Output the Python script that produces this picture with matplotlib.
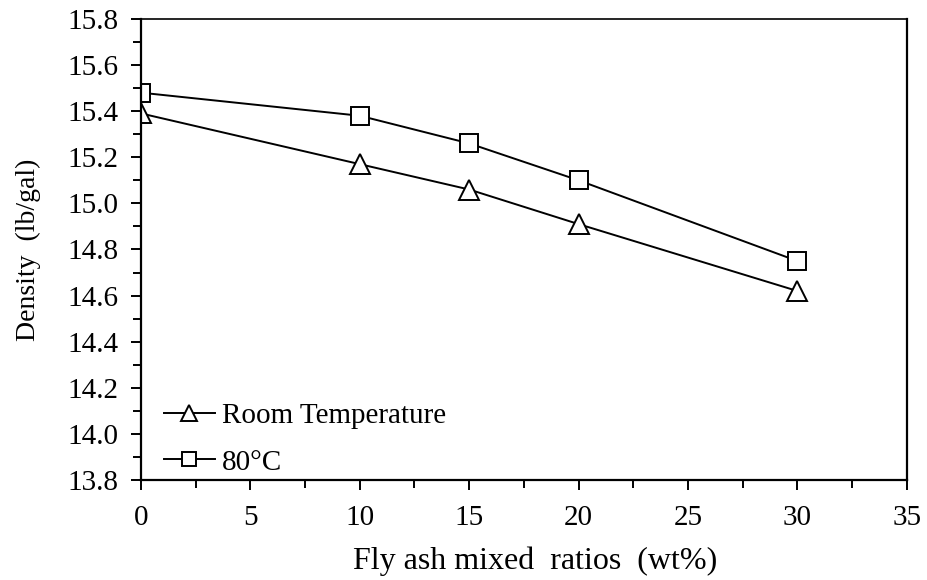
import matplotlib
matplotlib.use("Agg")
import matplotlib.pyplot as plt
from matplotlib.ticker import MultipleLocator, FormatStrFormatter

plt.rcParams['font.family'] = ['Liberation Serif', 'DejaVu Serif']

fly_ash = [0, 10, 15, 20, 30]
room_temp = [15.39, 15.17, 15.06, 14.91, 14.62]
temp_80 = [15.48, 15.38, 15.26, 15.10, 14.75]
series_labels = ["Room Temperature", "80\u00b0C"]

fig = plt.figure(figsize=(9.28, 5.8), dpi=100)
ax = fig.add_axes([0.152, 0.1724, 0.825, 0.795])

ax.plot(fly_ash, room_temp, color='black', lw=1.4, marker='^', ms=14,
        mfc='white', mec='black', mew=1.4, label=series_labels[0])
ax.plot(fly_ash, temp_80, color='black', lw=1.4, marker='s', ms=13,
        mfc='white', mec='black', mew=1.4, label=series_labels[1])

ax.set_xlim(0, 35)
ax.set_ylim(13.8, 15.8)
ax.xaxis.set_major_locator(MultipleLocator(5))
ax.xaxis.set_minor_locator(MultipleLocator(2.5))
ax.yaxis.set_major_locator(MultipleLocator(0.2))
ax.yaxis.set_minor_locator(MultipleLocator(0.1))
ax.yaxis.set_major_formatter(FormatStrFormatter('%.1f'))

ax.tick_params(axis='both', which='both', direction='out', width=1.4,
               top=False, right=False, labelsize=21, color='black')
ax.tick_params(axis='x', which='major', length=7, pad=11)
ax.tick_params(axis='y', which='major', length=7, pad=9)
ax.tick_params(axis='both', which='minor', length=6)
for s in ax.spines.values():
    s.set_linewidth(1.6)
    s.set_color('black')
ax.spines['top'].set_linewidth(1.2)

ax.set_xlabel("Fly ash mixed  ratios  (wt%)", fontsize=23, labelpad=9)
ax.xaxis.set_label_coords(0.515, -0.145)
ax.set_ylabel("Density  (lb/gal)", fontsize=20, labelpad=19)

leg = ax.legend(loc='lower left', bbox_to_anchor=(0.024, 0.0), frameon=False,
                fontsize=21, handlelength=1.75, handletextpad=0.25,
                labelspacing=0.68, borderpad=0.15, borderaxespad=0.0,
                markerscale=0.8)

fig.savefig("out.png", dpi=100)
